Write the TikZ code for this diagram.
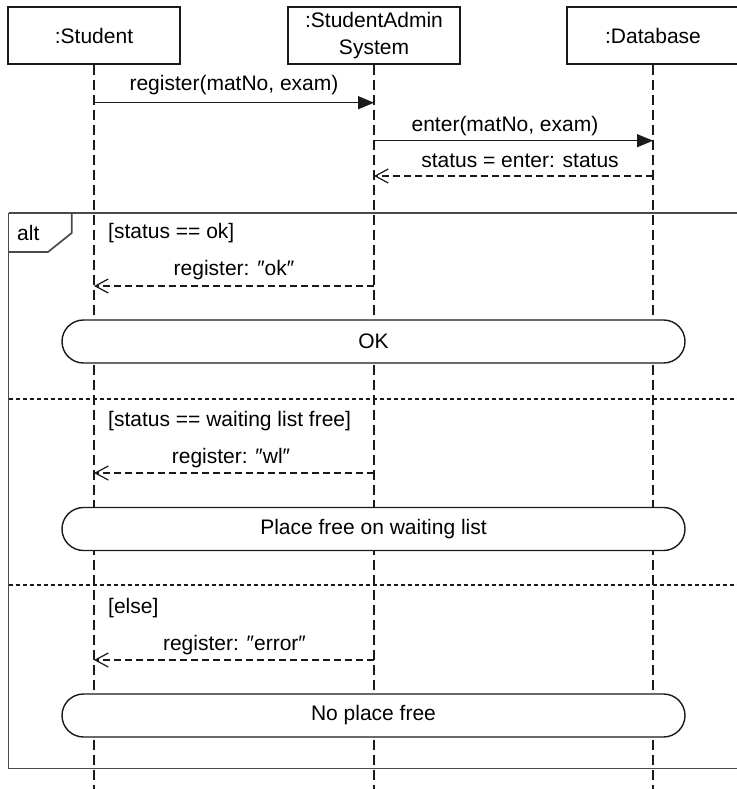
\documentclass[tikz,border=0pt]{standalone}
\usepackage{fontspec}
\setmainfont{Liberation Sans}
\usetikzlibrary{arrows.meta}
\definecolor{linec}{HTML}{1A1A1A}
\definecolor{framec}{HTML}{4A4A4A}
\newcommand{\lfont}{\fontsize{21}{24}\selectfont}
\tikzset{
  headbox/.style={draw=linec, line width=1.4pt, fill=white, minimum width=172pt, minimum height=57pt, inner sep=0pt, align=center, font=\lfont},
  lifeline/.style={draw=linec, line width=1.2pt, dash pattern=on 10pt off 5pt},
  syncmsg/.style={draw=linec, line width=1.4pt, -{Triangle[length=16pt,width=13pt]}},
  retmsg/.style={draw=linec, line width=1.3pt, dash pattern=on 7pt off 4pt, -{Straight Barb[length=13pt,width=14pt,line width=1.2pt]}},
  framebox/.style={draw=framec, line width=1.7pt},
  sepline/.style={draw=linec, line width=1.2pt, dash pattern=on 4pt off 3pt},
  stadium/.style={draw=linec, fill=white, line width=1.4pt, rounded corners=21.5pt, minimum width=623pt, minimum height=43pt, inner sep=0pt, font=\lfont},
  lbl/.style={inner sep=0pt, font=\lfont},
}
\begin{document}
\begin{tikzpicture}[x=1pt,y=-1pt]
\useasboundingbox (0,0) rectangle (736,789);
% lifeline ends
\coordinate (stuE) at (94,792);
\coordinate (sysE) at (374,792);
\coordinate (dbE) at (653,792);
% heads
\node[headbox] (stu) at (94,35.5) {:Student};
\node[headbox] (sys) at (374,35.5) {:StudentAdmin\\[3pt]System};
\node[headbox] (db) at (653,35.5) {:Database};
\draw[lifeline] (stu.south) -- (stuE);
\draw[lifeline] (sys.south) -- (sysE);
\draw[lifeline] (db.south) -- (dbE);
% message endpoints
\coordinate (m1a) at (94,102.7);  \coordinate (m1b) at (374,102.7);
\coordinate (m2a) at (374,140.7); \coordinate (m2b) at (653,140.7);
\coordinate (m3a) at (653,176);   \coordinate (m3b) at (374,176);
\coordinate (m4a) at (374,286);   \coordinate (m4b) at (94,286);
\coordinate (m5a) at (374,473);   \coordinate (m5b) at (94,473);
\coordinate (m6a) at (374,660);   \coordinate (m6b) at (94,660);
\draw[syncmsg] (m1a) -- (m1b);
\draw[syncmsg] (m2a) -- (m2b);
\draw[retmsg] (m3a) -- (m3b);
\node[lbl] (l1) at (234,85) {register(matNo, exam)};
\node[lbl] (l2) at (505,126) {enter(matNo, exam)};
\node[lbl] (l3) at (520,161) {status = enter: status};
% alt frame
\draw[framebox] (8.5,212.7) -- (745,212.7) (8.5,212.7) -- (8.5,768.5) -- (745,768.5);
\draw[framebox] (71.7,212.7) -- (71.7,233) -- (48,252) -- (8.5,252);
\node[lbl, anchor=west] (alt) at (17,233) {alt};
\coordinate (sep1a) at (8.5,399); \coordinate (sep1b) at (745,399);
\coordinate (sep2a) at (8.5,585); \coordinate (sep2b) at (745,585);
\draw[sepline] (sep1a) -- (sep1b);
\draw[sepline] (sep2a) -- (sep2b);
% operand 1
\node[lbl, anchor=west] (g1) at (108,233) {[status == ok]};
\draw[retmsg] (m4a) -- (m4b);
\node[lbl] (l4) at (234,270) {register: ″ok″};
\node[stadium] (ok) at (373.5,341.5) {OK};
% operand 2
\node[lbl, anchor=west] (g2) at (108,421) {[status == waiting list free]};
\draw[retmsg] (m5a) -- (m5b);
\node[lbl] (l5) at (231,458) {register: ″wl″};
\node[stadium] (wl) at (373.5,529) {Place free on waiting list};
% operand 3
\node[lbl, anchor=west] (g3) at (108,608) {[else]};
\draw[retmsg] (m6a) -- (m6b);
\node[lbl] (l6) at (234.5,645) {register: ″error″};
\node[stadium] (np) at (373.5,715.5) {No place free};
\end{tikzpicture}
\end{document}
